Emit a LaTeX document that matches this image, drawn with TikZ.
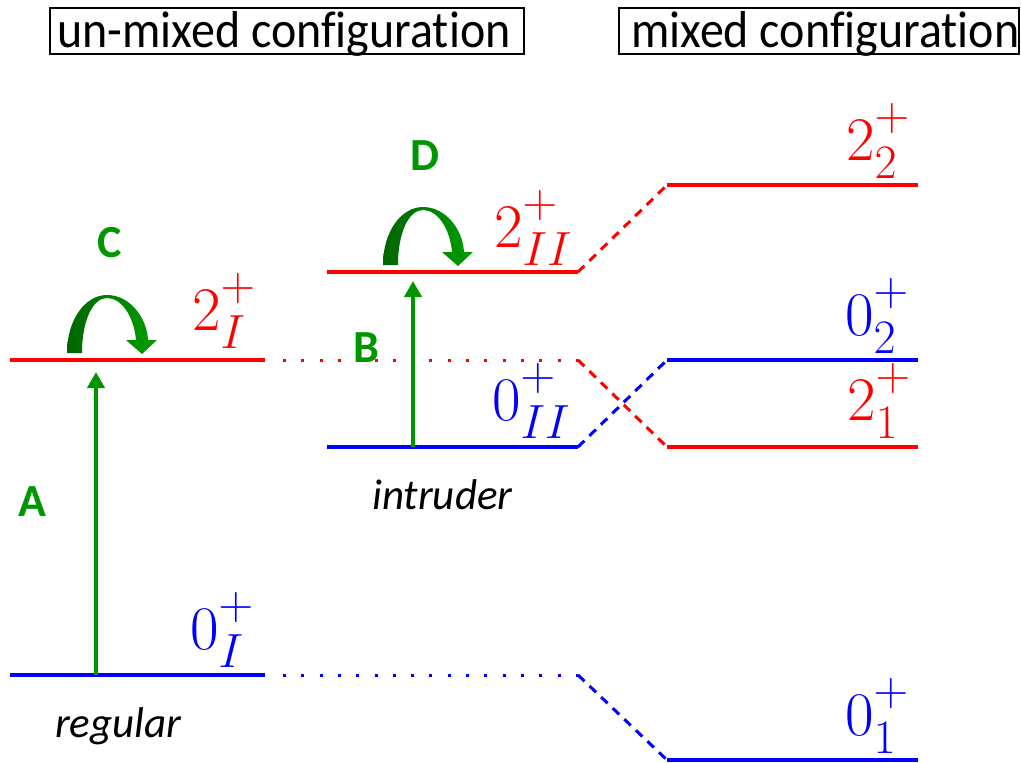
\RequirePackage{fix-cm}
\documentclass[tikz,border=0pt]{standalone}
\usepackage[no-math]{fontspec}
\newfontfamily\carlito[Ligatures=NoCommon]{Carlito}
\usetikzlibrary{arrows.meta}
\DeclareMathSizes{62}{62}{48}{40}
\definecolor{myred}{RGB}{255,0,0}
\definecolor{myblue}{RGB}{0,0,255}
\definecolor{mygreen}{RGB}{0,150,0}
\newcommand{\lvl}[3]{$#1\rlap{\raisebox{30pt}{$\scriptstyle #2$}}\raisebox{-18pt}{$\scriptstyle #3$}$}
\tikzset{
  level/.style={line width=4pt},
  dotline/.style={line width=3pt, dash pattern=on 3pt off 15.3pt},
  dashline/.style={line width=3pt, dash pattern=on 9pt off 7pt},
  mathlab/.style={inner sep=0pt, anchor=base west, font=\fontsize{62}{72}\selectfont},
  header/.style={inner sep=0pt, anchor=base west, yscale=1.08, font=\carlito\fontsize{48}{56}\selectfont},
  hbox/.style={draw, line width=2pt, inner sep=0pt, anchor=north west},
  glab/.style={text=mygreen, inner sep=0pt, font=\carlito\bfseries\fontsize{46}{54}\selectfont},
  itlab/.style={inner sep=0pt, anchor=base west, font=\carlito\itshape\fontsize{43}{50}\selectfont},
  trans/.style={mygreen, line width=4pt, -{Triangle[length=16pt,width=17pt]}},
  uturn/.pic={
    \shade[left color=green!40!black, right color=green!62!black]
      (0,0) .. controls (0,-33) and (18,-58) .. (40,-58)
      .. controls (63,-58) and (80,-35) .. (81,-13)
      -- (90,-13) -- (75,1) -- (59,-13) -- (69,-13)
      .. controls (67,-36) and (55,-55) .. (40,-55)
      .. controls (26,-55) and (15,-33) .. (15,0) -- cycle;
  }
}
\begin{document}
\begin{tikzpicture}[x=1pt,y=-1pt]
\useasboundingbox (0,0) rectangle (1021,763);

% headers
\node (box1) [hbox, minimum width=474pt, minimum height=46pt] at (49,7) {};
\node (box2) [hbox, minimum width=400pt, minimum height=46pt] at (618,7) {};
\node (t1) [header] at (57,47) {un-mixed configuration};
\node (t2) [header] at (631,47) {mixed configuration};

% level end points
\coordinate (a0L) at (10,675);  \coordinate (a0R) at (265,675);
\coordinate (a2L) at (10,360);  \coordinate (a2R) at (265,360);
\coordinate (b0L) at (327,447); \coordinate (b0R) at (578,447);
\coordinate (b2L) at (327,272); \coordinate (b2R) at (578,272);
\coordinate (c22L) at (667,185); \coordinate (c22R) at (918,185);
\coordinate (c02L) at (667,360); \coordinate (c02R) at (918,360);
\coordinate (c21L) at (667,447); \coordinate (c21R) at (918,447);
\coordinate (c01L) at (667,760); \coordinate (c01R) at (918,760);
\coordinate (k0) at (578,675);
\coordinate (k2) at (578,360);
\coordinate (d0s) at (283,675);
\coordinate (d2s) at (283,360);

% connectors
\draw[myblue, dotline] (d0s) -- (k0);
\draw[myblue, dashline] (k0) -- (c01L);
\draw[myred, dotline] (d2s) -- (k2);
\draw[myred, dashline] (k2) -- (c21L);
\draw[myblue, dashline] (b0R) -- (c02L);
\draw[myred, dashline] (b2R) -- (c22L);

% levels
\draw[myblue, level] (a0L) -- (a0R);
\draw[myred, level] (a2L) -- (a2R);
\draw[myblue, level] (b0L) -- (b0R);
\draw[myred, level] (b2L) -- (b2R);
\draw[myred, level] (c22L) -- (c22R);
\draw[myblue, level] (c02L) -- (c02R);
\draw[myred, level] (c21L) -- (c21R);
\draw[myblue, level] (c01L) -- (c01R);

% level labels
\node (l0I) [mathlab, text=myblue] at (190,649) {\lvl{0}{+}{I}};
\node (l2I) [mathlab, text=myred] at (192,330) {\lvl{2}{+}{I}};
\node (l0II) [mathlab, text=myblue] at (492,420) {\lvl{0}{+}{II}};
\node (l2II) [mathlab, text=myred] at (494,247) {\lvl{2}{+}{II}};
\node (l22) [mathlab, text=myred] at (846,160) {\lvl{2}{+}{2}};
\node (l02) [mathlab, text=myblue] at (845,335) {\lvl{0}{+}{2}};
\node (l21) [mathlab, text=myred] at (847,420) {\lvl{2}{+}{1}};
\node (l01) [mathlab, text=myblue] at (845,735) {\lvl{0}{+}{1}};

% transitions
\coordinate (A0) at (96,675); \coordinate (A1) at (96,372);
\coordinate (B0) at (413,447); \coordinate (B1) at (413,281);
\draw[trans] (A0) -- (A1);
\draw[trans] (B0) -- (B1);
\pic at (67,353) {uturn};
\pic at (383,265) {uturn};

\node (gA) [glab] at (32,502) {A};
\node (gB) [glab] at (366,348) {B};
\node (gC) [glab] at (110,243) {C};
\node (gD) [glab] at (425,156) {D};

\node (reg) [itlab] at (55,737) {regular};
\node (intr) [itlab] at (372,509) {intruder};
\end{tikzpicture}
\end{document}
